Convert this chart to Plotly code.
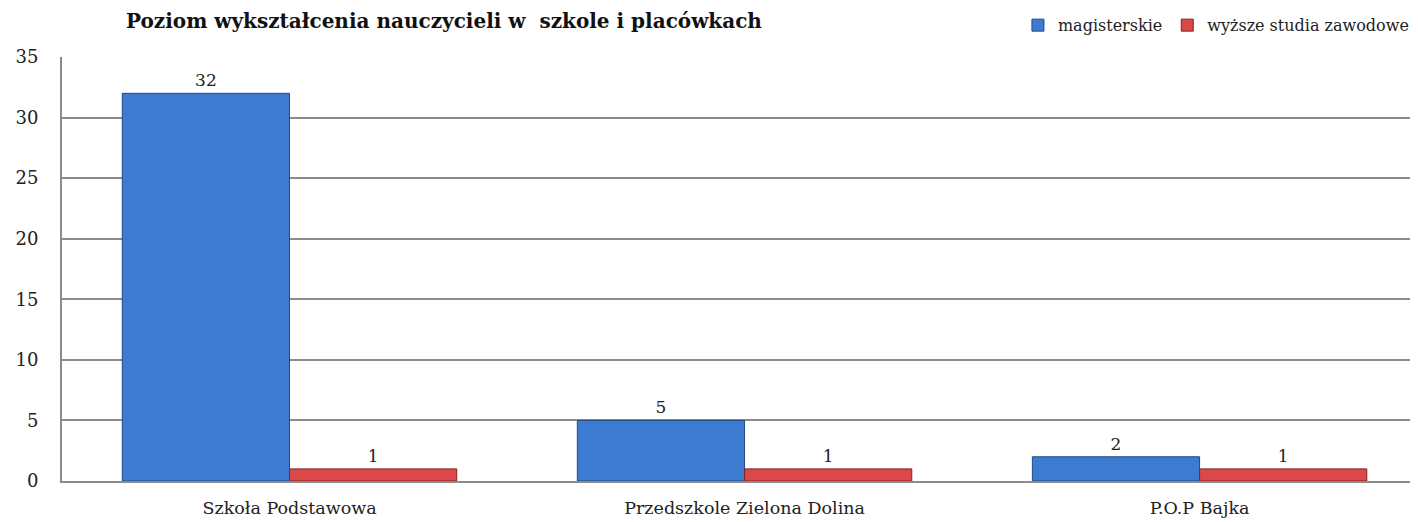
import plotly.graph_objects as go

# data
categories = ["Szkoła Podstawowa", "Przedszkole Zielona Dolina", "P.O.P Bajka"]
magisterskie = [32, 5, 2]
zawodowe = [1, 1, 1]
title_text = "Poziom wykształcenia nauczycieli w  szkole i placówkach"

font_family = "DejaVu Serif"

fig = go.Figure()
fig.add_trace(go.Bar(
    x=categories, y=magisterskie, name="magisterskie",
    marker_color="#3d7bd0", marker_line_color="#1f4a80", marker_line_width=1,
    text=magisterskie, textposition="outside", cliponaxis=False,
    textfont=dict(size=17, color="#222"),
))
fig.add_trace(go.Bar(
    x=categories, y=zawodowe, name="wyższe studia zawodowe",
    marker_color="#d9484a", marker_line_color="#8a1f22", marker_line_width=1,
    text=zawodowe, textposition="outside", cliponaxis=False,
    textfont=dict(size=17, color="#222"),
))

fig.add_annotation(
    text="<b>" + title_text + "</b>",
    xref="paper", yref="paper", x=0.518, y=1.085,
    xanchor="right", yanchor="middle", showarrow=False,
    font=dict(size=20, family=font_family, color="#111"),
)

# page body has an 8px margin, so the figure is sized to fit the window
fig.update_layout(
    width=1410, height=514,
    margin=dict(l=54, r=0, t=49, b=41),
    paper_bgcolor="white", plot_bgcolor="white",
    font=dict(family=font_family, size=17, color="#222"),
    barmode="group", bargap=0.265, bargroupgap=0,
    legend=dict(
        orientation="h", x=0.997, xanchor="right", y=1.115, yanchor="top",
        font=dict(size=16), itemwidth=30, bgcolor="rgba(0,0,0,0)",
        borderwidth=0,
    ),
    showlegend=True,
)
fig.update_xaxes(
    range=[-0.5, 2.48], showline=True, linecolor="#8c8c8c", linewidth=2,
    ticks="", showgrid=False, automargin=False, ticklabelstandoff=10,
    tickfont=dict(size=17.5),
)
fig.update_yaxes(
    range=[0, 35], dtick=5, showgrid=True, gridcolor="#8c8c8c", gridwidth=1.5,
    showline=True, linecolor="#8c8c8c", linewidth=2, ticks="", zeroline=False,
    ticklabelstandoff=18, automargin=False, tickfont=dict(size=18),
)

fig.write_html("out.html")
